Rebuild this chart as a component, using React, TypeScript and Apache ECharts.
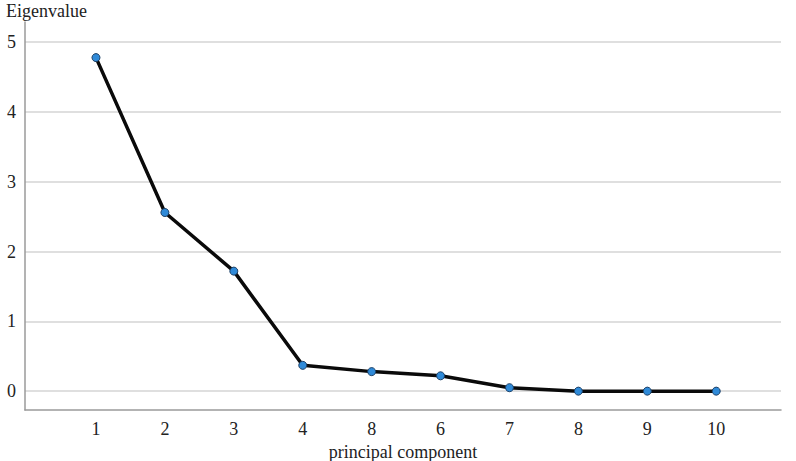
import React, { useEffect, useRef } from "react";
import * as echarts from "echarts";

const componentLabels = ["1", "2", "3", "4", "8", "6", "7", "8", "9", "10"];
const componentPositions = [1, 2, 3, 4, 5, 6, 7, 8, 9, 10];
const eigenvalues = [4.78, 2.56, 1.72, 0.37, 0.28, 0.22, 0.05, 0.0, 0.0, 0.0];
const yTickValues = [0, 1, 2, 3, 4, 5];

const FONT = "'Liberation Serif', 'Times New Roman', 'DejaVu Serif', serif";

export default function App() {
  const ref = useRef<HTMLDivElement>(null);
  useEffect(() => {
    if (!ref.current) return;
    const chart = echarts.init(ref.current, undefined, { renderer: "svg" });
    const data = componentPositions.map((p, i) => [p, eigenvalues[i]]);
    chart.setOption({
      animation: false,
      backgroundColor: "#ffffff",
      textStyle: { fontFamily: FONT },
      title: {
        text: "Eigenvalue",
        left: 1,
        top: -3,
        textStyle: { fontFamily: FONT, fontSize: 18, fontWeight: "normal", color: "#222" },
      },
      grid: { left: 25, right: 15, top: 22, bottom: 51, outerBoundsMode: "none", containLabel: false },
      xAxis: {
        type: "value",
        min: -0.03,
        max: 10.94,
        minInterval: 1,
        maxInterval: 1,
        name: "principal component",
        nameLocation: "middle",
        nameGap: 25,
        nameTextStyle: { fontFamily: FONT, fontSize: 18, color: "#222" },
        axisLine: { show: true, onZero: false, lineStyle: { color: "#9a9a9a", width: 1.5 } },
        axisTick: { show: false },
        splitLine: { show: false },
        axisLabel: {
          fontFamily: FONT,
          fontSize: 18,
          color: "#222",
          margin: 10,
          showMinLabel: false,
          showMaxLabel: false,
          formatter: (v: number) => {
            const idx = componentPositions.indexOf(Math.round(v * 1000) / 1000);
            return idx >= 0 ? componentLabels[idx] : "";
          },
        },
      },
      yAxis: {
        type: "value",
        min: -0.27,
        max: 5.29,
        minInterval: 1,
        maxInterval: 1,
        axisLine: { show: true, onZero: false, lineStyle: { color: "#9a9a9a", width: 1.5 } },
        axisTick: { show: false },
        axisLabel: {
          fontFamily: FONT,
          fontSize: 18,
          color: "#222",
          margin: 9,
          formatter: (v: number) => {
            const r = Math.round(v * 1000) / 1000;
            return yTickValues.indexOf(r) >= 0 ? String(r) : "";
          },
        },
        splitLine: {
          show: true,
          lineStyle: {
            color: [
              "rgba(0,0,0,0)",
              "#d4d4d4",
              "#d4d4d4",
              "#d4d4d4",
              "#d4d4d4",
              "#d4d4d4",
              "#d4d4d4",
              "rgba(0,0,0,0)",
            ],
            width: 1.5,
          },
        },
      },
      series: [
        {
          type: "line",
          data,
          symbol: "circle",
          symbolSize: 8,
          lineStyle: { color: "#0a0a0a", width: 3.5 },
          itemStyle: { color: "#2f8ad8", borderColor: "#1b3f66", borderWidth: 1 },
          z: 3,
        },
      ],
    });
    return () => chart.dispose();
  }, []);
  return (
    <div
      ref={ref}
      style={{ position: "fixed", left: 0, top: 0, width: 796, height: 461 }}
    />
  );
}
